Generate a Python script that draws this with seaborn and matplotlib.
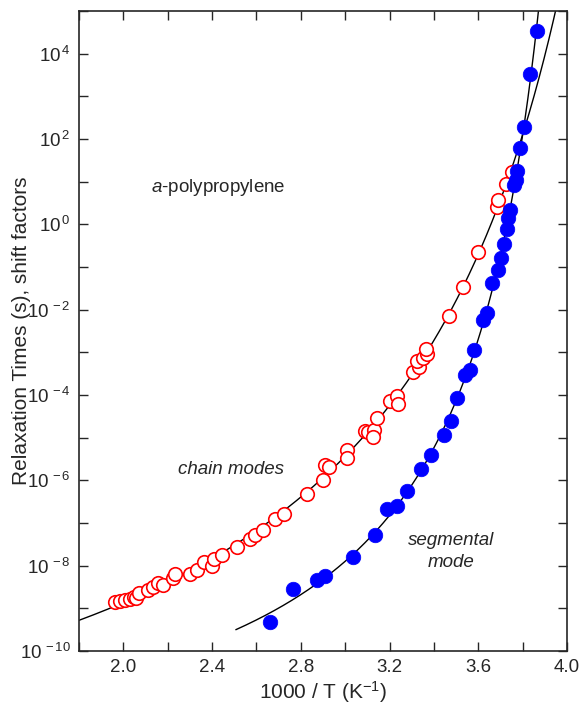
import numpy as np
import pandas as pd
import matplotlib
matplotlib.use("Agg")
import matplotlib.pyplot as plt
from matplotlib.ticker import MultipleLocator, FixedLocator, FuncFormatter
import seaborn as sns

# ---------------- data ----------------
chain_x = [1.962, 1.985, 2.008, 2.030, 2.048, 2.057, 2.069, 2.113, 2.132, 2.158,
           2.180, 2.225, 2.233, 2.300, 2.331, 2.364, 2.398, 2.409, 2.446, 2.511,
           2.571, 2.593, 2.631, 2.683, 2.726, 2.826, 2.901, 2.909, 2.929, 3.007,
           3.010, 3.090, 3.101, 3.128, 3.125, 3.143, 3.203, 3.233, 3.236, 3.305,
           3.331, 3.326, 3.353, 3.368, 3.365, 3.466, 3.531, 3.601, 3.684, 3.687,
           3.726, 3.752]
chain_logy = [-8.85, -8.83, -8.81, -8.77, -8.73, -8.75, -8.63, -8.58, -8.49, -8.40,
              -8.46, -8.30, -8.20, -8.19, -8.09, -7.92, -8.01, -7.84, -7.74, -7.56,
              -7.37, -7.27, -7.17, -6.90, -6.78, -6.32, -6.00, -5.65, -5.68, -5.28,
              -5.47, -4.85, -4.87, -4.81, -4.98, -4.54, -4.15, -4.03, -4.21, -3.45,
              -3.35, -3.20, -3.13, -3.03, -2.92, -2.16, -1.48, -0.66, 0.41, 0.57,
              0.94, 1.23]

seg_x = [2.662, 2.767, 2.875, 2.909, 3.037, 3.135, 3.188, 3.233, 3.278, 3.343,
         3.388, 3.444, 3.478, 3.504, 3.541, 3.564, 3.582, 3.621, 3.639, 3.661,
         3.687, 3.702, 3.714, 3.729, 3.732, 3.741, 3.759, 3.771, 3.774, 3.786,
         3.807, 3.834, 3.864]
seg_logy = [-9.32, -8.54, -8.34, -8.24, -7.80, -7.29, -6.68, -6.61, -6.24, -5.73,
            -5.41, -4.94, -4.60, -4.07, -3.53, -3.41, -2.94, -2.24, -2.07, -1.37,
            -1.07, -0.80, -0.46, -0.12, 0.14, 0.33, 0.92, 1.05, 1.25, 1.79,
            2.27, 3.53, 4.53]

# Vogel temperatures (K) of the two VFT fit curves
chain_T0 = 207.0
seg_T0 = 235.0

x_ticklabels = ["2.0", "2.4", "2.8", "3.2", "3.6", "4.0"]
y_label_exps = [-10, -8, -6, -4, -2, 0, 2, 4]

# ---------------- VFT fits (A, B least squares from the data) ----------------
def vft_fit(x, logy, T0):
    T = 1000.0 / np.asarray(x)
    ly = np.asarray(logy)
    M = np.column_stack([np.ones_like(T), 1.0 / (T - T0)])
    (A, B), *_ = np.linalg.lstsq(M, ly, rcond=None)
    return lambda xx: A + B / (1000.0 / xx - T0)

chain_f = vft_fit(chain_x, chain_logy, chain_T0)
seg_f = vft_fit(seg_x, seg_logy, seg_T0)

def curve(f, T0, x0, ytop=5.2):
    xmax = 1000.0 / T0 - 1e-4
    xx = np.linspace(x0, min(xmax, 4.2), 4000)
    yy = f(xx)
    m = yy <= ytop
    return pd.DataFrame({"x": xx[m], "y": 10 ** yy[m]})

chain_curve = curve(chain_f, chain_T0, 1.8)
seg_curve = curve(seg_f, seg_T0, 2.507)

chain_df = pd.DataFrame({"x": chain_x, "y": 10 ** np.array(chain_logy)})
seg_df = pd.DataFrame({"x": seg_x, "y": 10 ** np.array(seg_logy)})

# ---------------- plot ----------------
sns.set_style("ticks")
plt.rcParams["font.family"] = ["Liberation Sans", "DejaVu Sans"]
plt.rcParams["mathtext.fontset"] = "custom"
plt.rcParams["mathtext.rm"] = "Liberation Sans"
plt.rcParams["mathtext.it"] = "Liberation Sans:italic"

fig = plt.figure(figsize=(5.79, 7.08), dpi=100)
ax = fig.add_axes([79 / 579, 57 / 708, 488 / 579, 640 / 708])

sns.lineplot(data=chain_curve, x="x", y="y", ax=ax, color="black", lw=1.0, sort=False)
sns.lineplot(data=seg_curve, x="x", y="y", ax=ax, color="black", lw=1.0, sort=False)

sns.scatterplot(data=chain_df, x="x", y="y", ax=ax, s=95, marker="o",
                facecolor="white", edgecolor="#ff0000", linewidth=1.2, zorder=3)
sns.scatterplot(data=seg_df, x="x", y="y", ax=ax, s=110, marker="o",
                color="#0000ff", edgecolor="#0000ff", linewidth=0.5, zorder=4)

ax.set_yscale("log")
ax.set_xlim(1.8, 4.0)
ax.set_ylim(1e-10, 1e5)

ax.xaxis.set_major_locator(MultipleLocator(0.2))
def xfmt(v, pos):
    for lab in x_ticklabels:
        if abs(v - float(lab)) < 1e-6:
            return lab
    return ""
ax.xaxis.set_major_formatter(FuncFormatter(xfmt))

ax.yaxis.set_major_locator(FixedLocator([10.0 ** e for e in range(-10, 6)]))
ax.yaxis.set_minor_locator(FixedLocator([]))
def yfmt(v, pos):
    e = int(round(np.log10(v)))
    if e in y_label_exps:
        return r"$10^{\,%d}$" % e
    return ""
ax.yaxis.set_major_formatter(FuncFormatter(yfmt))

ax.tick_params(axis="both", which="major", direction="in", length=6.5, width=1,
               top=True, right=True, labelsize=13.5, pad=6)
for sp in ax.spines.values():
    sp.set_visible(True)
    sp.set_linewidth(1.2)

ax.set_xlabel(r"1000 / T (K$^{-1}$)", fontsize=15, labelpad=2)
ax.set_ylabel("Relaxation Times (s), shift factors", fontsize=15)
ax.yaxis.set_label_coords(-0.098, 0.5)

ax.text(2.43, 10 ** 0.86, r"$\it{a}$-polypropylene", ha="center", va="center", fontsize=13.5)
ax.text(2.485, 10 ** -5.75, "chain modes", ha="center", va="center", fontsize=13.5, style="italic")
ax.text(3.476, 10 ** -7.67, "segmental\nmode", ha="center", va="center", fontsize=13.5,
        style="italic", linespacing=1.35)

fig.savefig("out.png", dpi=100)
